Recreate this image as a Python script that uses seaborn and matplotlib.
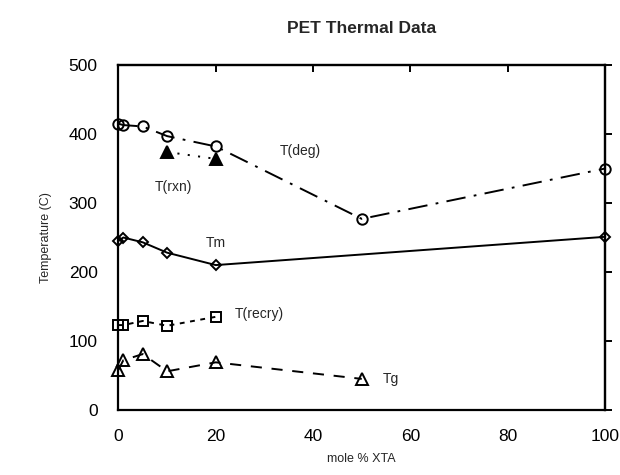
import matplotlib
matplotlib.use("Agg")
import matplotlib.pyplot as plt
import seaborn as sns
import pandas as pd

sns.set_theme(style="white")
plt.rcParams['font.family'] = ['Liberation Sans', 'DejaVu Sans']
plt.rcParams['lines.scale_dashes'] = False

# Data (mole % XTA vs temperature, C)
x_deg = [0, 1, 5, 10, 20, 50, 100]
t_deg = [415, 413, 411, 397, 382, 277, 350]

x_rxn = [10, 20]
t_rxn = [374, 364]

x_m = [0, 1, 5, 10, 20, 100]
t_m = [245, 250, 243, 228, 210, 251]

x_recry = [0, 1, 5, 10, 20]
t_recry = [123, 123, 129, 122, 135]

x_g = [0, 1, 5, 10, 20, 50]
t_g = [58, 72, 81, 56, 69, 45]

x_ticks = [0, 20, 40, 60, 80, 100]
y_ticks = [0, 100, 200, 300, 400, 500]

fig = plt.figure(figsize=(6.2, 4.75), dpi=100)
ax = fig.add_axes([0.191, 0.137, 0.785, 0.726])

common = dict(color='black', linewidth=1.4, markeredgecolor='black', markeredgewidth=1.4,
              clip_on=False, ax=ax)

sns.lineplot(x=x_deg, y=t_deg, marker='o', markersize=7.5, markerfacecolor='none',
             linestyle=(0, (14, 6, 2, 6)), **common)
sns.lineplot(x=x_rxn, y=t_rxn, marker='^', markersize=8, markerfacecolor='black',
             linestyle=(0, (1.5, 6)), **common)
sns.lineplot(x=x_m, y=t_m, marker='D', markersize=5.5, markerfacecolor='none',
             linestyle='-', **common)
sns.lineplot(x=x_recry, y=t_recry, marker='s', markersize=7, markerfacecolor='none',
             linestyle=(0, (3.5, 4)), **common)
sns.lineplot(x=x_g, y=t_g, marker='^', markersize=8, markerfacecolor='none',
             linestyle=(0, (8, 7)), **common)

ax.set_xlim(0, 100)
ax.set_ylim(0, 500)
ax.set_xticks(x_ticks)
ax.set_yticks(y_ticks)
ax.set_xticklabels([str(v) for v in x_ticks], fontsize=12.5)
ax.set_yticklabels([str(v) for v in y_ticks], fontsize=12.5)

for s in ax.spines.values():
    s.set_color('black')
    s.set_linewidth(1.6)

ax.tick_params(axis='y', which='both', direction='out', length=5, width=1.4,
               colors='black', pad=10, right=False)
ax.tick_params(axis='x', which='both', direction='inout', length=8, width=1.4,
               colors='black', pad=10, top=False)

top = ax.secondary_xaxis('top')
top.set_xticks(x_ticks)
top.tick_params(direction='in', length=5, width=1.4, colors='black', labeltop=False)
top.spines['top'].set_linewidth(1.6)
right = ax.secondary_yaxis('right')
right.set_yticks(y_ticks)
right.tick_params(direction='out', length=5, width=1.4, colors='black', labelright=False)
right.spines['right'].set_linewidth(1.6)

ax.text(33.2, 375, 'T(deg)', fontsize=10, va='center', ha='left')
ax.text(7.5, 323, 'T(rxn)', fontsize=10, va='center', ha='left')
ax.text(18.0, 242, 'Tm', fontsize=10, va='center', ha='left')
ax.text(24.0, 139, 'T(recry)', fontsize=10, va='center', ha='left')
ax.text(54.4, 45, 'Tg', fontsize=10, va='center', ha='left')

ax.set_xlabel('mole % XTA', fontsize=9, labelpad=6)
ax.set_ylabel('Temperature (C)', fontsize=9, labelpad=12)
fig.text(0.583, 0.94, 'PET Thermal Data', fontsize=12.5, fontweight='bold',
         ha='center', va='center')

fig.savefig('out.png', dpi=100)
